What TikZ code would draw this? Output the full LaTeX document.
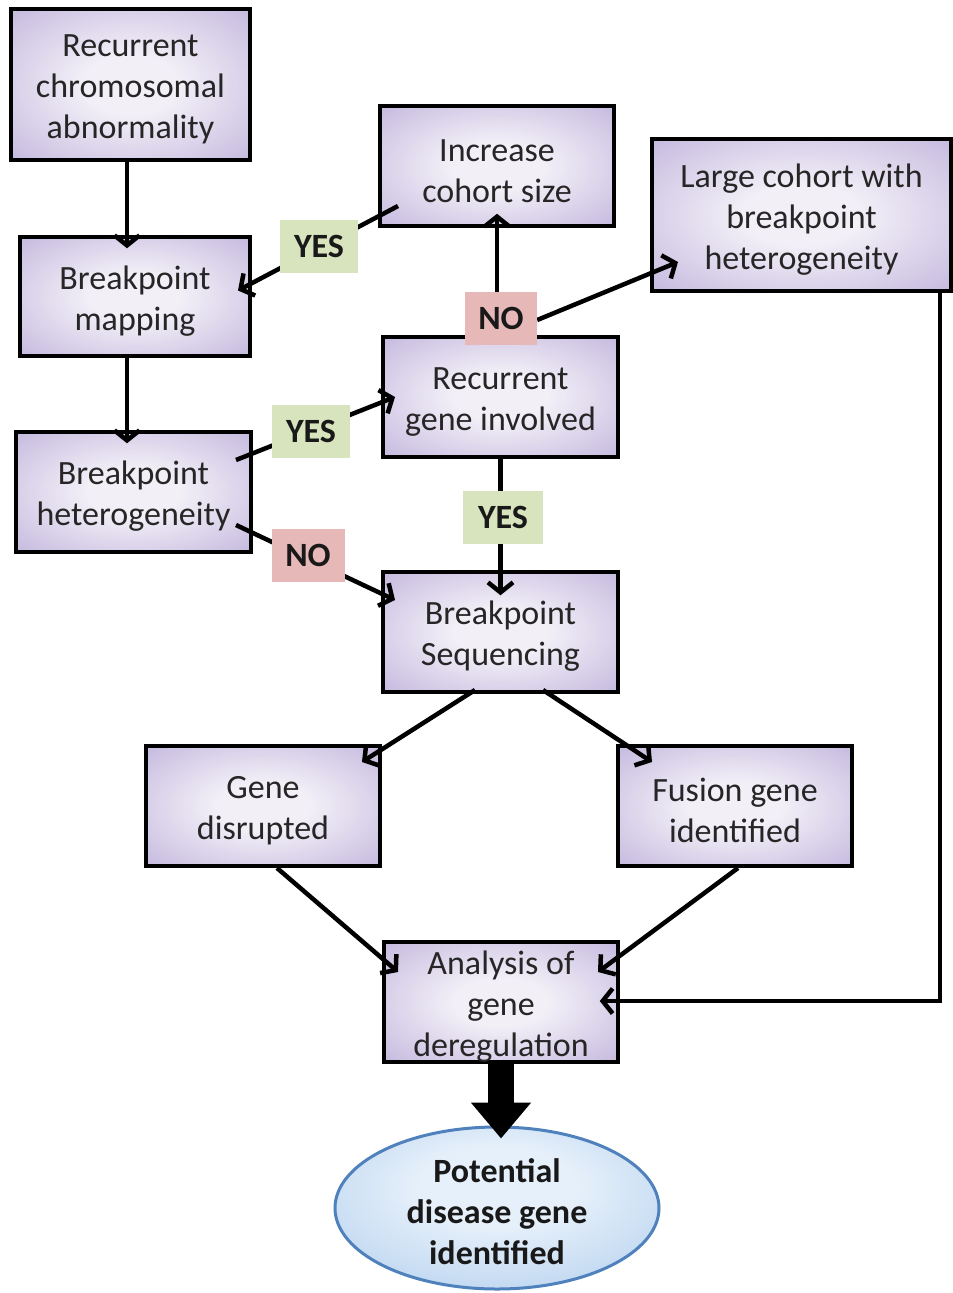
\documentclass[tikz,border=0pt]{standalone}
\usepackage{fontspec}
\setmainfont{Carlito}
\usetikzlibrary{arrows.meta,calc,shapes.geometric}
\definecolor{pA}{HTML}{F2EFF7}
\definecolor{pB}{HTML}{CFC5E4}
\definecolor{pC}{HTML}{AB9BD0}
\definecolor{pD}{HTML}{9786C4}
\definecolor{eA}{HTML}{E6F0FA}
\definecolor{eB}{HTML}{BFD7F1}
\definecolor{eC}{HTML}{96BDE6}
\definecolor{eborder}{HTML}{4F81BD}
\definecolor{yesgreen}{HTML}{D7E4BD}
\definecolor{nopink}{HTML}{E6B9B8}
\pgfdeclareradialshading{boxshade}{\pgfpointorigin}{color(0bp)=(pA); color(10bp)=(pA); color(30bp)=(pB); color(50bp)=(pC); color(72bp)=(pD)}
\pgfdeclareradialshading{ellshade}{\pgfpoint{0bp}{8bp}}{color(0bp)=(eA); color(12bp)=(eA); color(32bp)=(eB); color(50bp)=(eC); color(72bp)=(eC)}
\pgfdeclarelayer{front}
\pgfsetlayers{main,front}
\newcommand{\topst}{\rule{0pt}{32pt}}
\begin{document}
\begin{tikzpicture}[x=1pt,y=-1pt,
  box/.style={draw=black, line width=3.5pt, shading=boxshade, inner sep=0pt, align=center,
    font=\fontsize{34}{41}\selectfont, text=black!85},
  lab/.style={inner sep=0pt, font=\fontsize{34}{41}\selectfont\bfseries, text=black!90,
    minimum height=53pt},
  yeslab/.style={lab, fill=yesgreen, minimum width=78pt},
  nolab/.style={lab, fill=nopink, minimum width=73pt},
  arr/.style={line width=4.5pt, -{Straight Barb[length=10pt,width=25pt]}}]
\fill[white] (0,0) rectangle (953,1293);
\useasboundingbox (0,0) rectangle (953,1293);

% boxes
\node[box, minimum width=239pt, minimum height=151pt] (b1) at (130.5,84.5) {\topst Recurrent\\chromosomal\\abnormality};
\node[box, minimum width=230pt, minimum height=119pt] (b2) at (135,296.5) {\topst Breakpoint\\mapping};
\node[box, minimum width=235pt, minimum height=120pt] (b3) at (133.5,492) {\topst Breakpoint\\heterogeneity};
\node[box, minimum width=234pt, minimum height=120pt] (b4) at (497,166) {\topst Increase\\cohort size};
\node[box, minimum width=299pt, minimum height=152pt] (b5) at (801.5,215) {\topst Large cohort with\\breakpoint\\heterogeneity};
\node[box, minimum width=235pt, minimum height=120pt] (b6) at (500.5,397) {\topst Recurrent\\gene involved};
\node[box, minimum width=235pt, minimum height=120pt] (b7) at (500.5,632) {\topst Breakpoint\\Sequencing};
\node[box, minimum width=234pt, minimum height=120pt] (b8) at (263,806) {\topst Gene\\disrupted};
\node[box, minimum width=234pt, minimum height=120pt] (b9) at (735,806) {\topst Fusion gene\\identified};
\node[box, minimum width=234pt, minimum height=120pt] (b10) at (501,1002) {\topst Analysis of\\gene\\deregulation};
\node[ellipse, draw=eborder, line width=3pt, shading=ellshade, inner sep=0pt,
  minimum width=324pt, minimum height=162pt, align=center,
  font=\fontsize{34}{41}\selectfont\bfseries, text=black!90] (ell) at (497,1208) {\topst Potential\\disease gene\\identified};

% labels (front layer)
\begin{pgfonlayer}{front}
\node[yeslab] (yes1) at (319,246) {YES};
\node[nolab, minimum width=72pt] (no1) at (501,318) {NO};
\node[yeslab] (yes2) at (311,431) {YES};
\node[nolab] (no2) at (308,555) {NO};
\node[yeslab, minimum width=80pt] (yes3) at (503,517) {YES};
\end{pgfonlayer}

% connectors
\draw[arr] ($(b1.south)+(-3.5,0)$) -- ($(b2.north)+(-8,13)$);
\draw[arr] ($(b4.center)+(-99,40)$) -- ($(b2.center)+(103,-6)$);
\draw[arr] ($(b2.south)+(-8,0)$) -- ($(b3.north)+(-6.5,13)$);
\draw[arr] ($(b3.center)+(102.5,-32)$) -- ($(b6.center)+(-105.5,0)$);
\draw[arr] ($(b3.center)+(102.5,33)$) -- ($(b7.center)+(-105.5,-32)$);
\draw[arr] (b6.south) -- ($(b7.north)+(0,25)$);
\draw[arr] ($(b6.north)+(-3.5,0)$) -- ($(b4.south)+(0,-14)$);
\draw[arr] ($(no1.east)+(0,2)$) -- ($(b5.center)+(-123.5,47)$);
\draw[arr] ($(b7.center)+(-25.5,58)$) -- ($(b8.center)+(99,-44)$);
\draw[arr] ($(b7.center)+(42.5,58)$) -- ($(b9.center)+(-83,-44)$);
\draw[arr] ($(b8.center)+(14,62)$) -- ($(b10.center)+(-103,-30)$);
\draw[arr] ($(b9.center)+(3,62)$) -- ($(b10.center)+(97,-30)$);
\draw[arr] ($(b5.south east)+(-13,0)$) |- ($(b10.east)+(-20,-1)$);
\draw[line width=26pt, -{Triangle[width=58pt,length=36pt]}] ($(b10.south)+(0,-1)$) -- ($(b10.south |- ell.north)+(0,13)$);
\end{tikzpicture}
\end{document}
